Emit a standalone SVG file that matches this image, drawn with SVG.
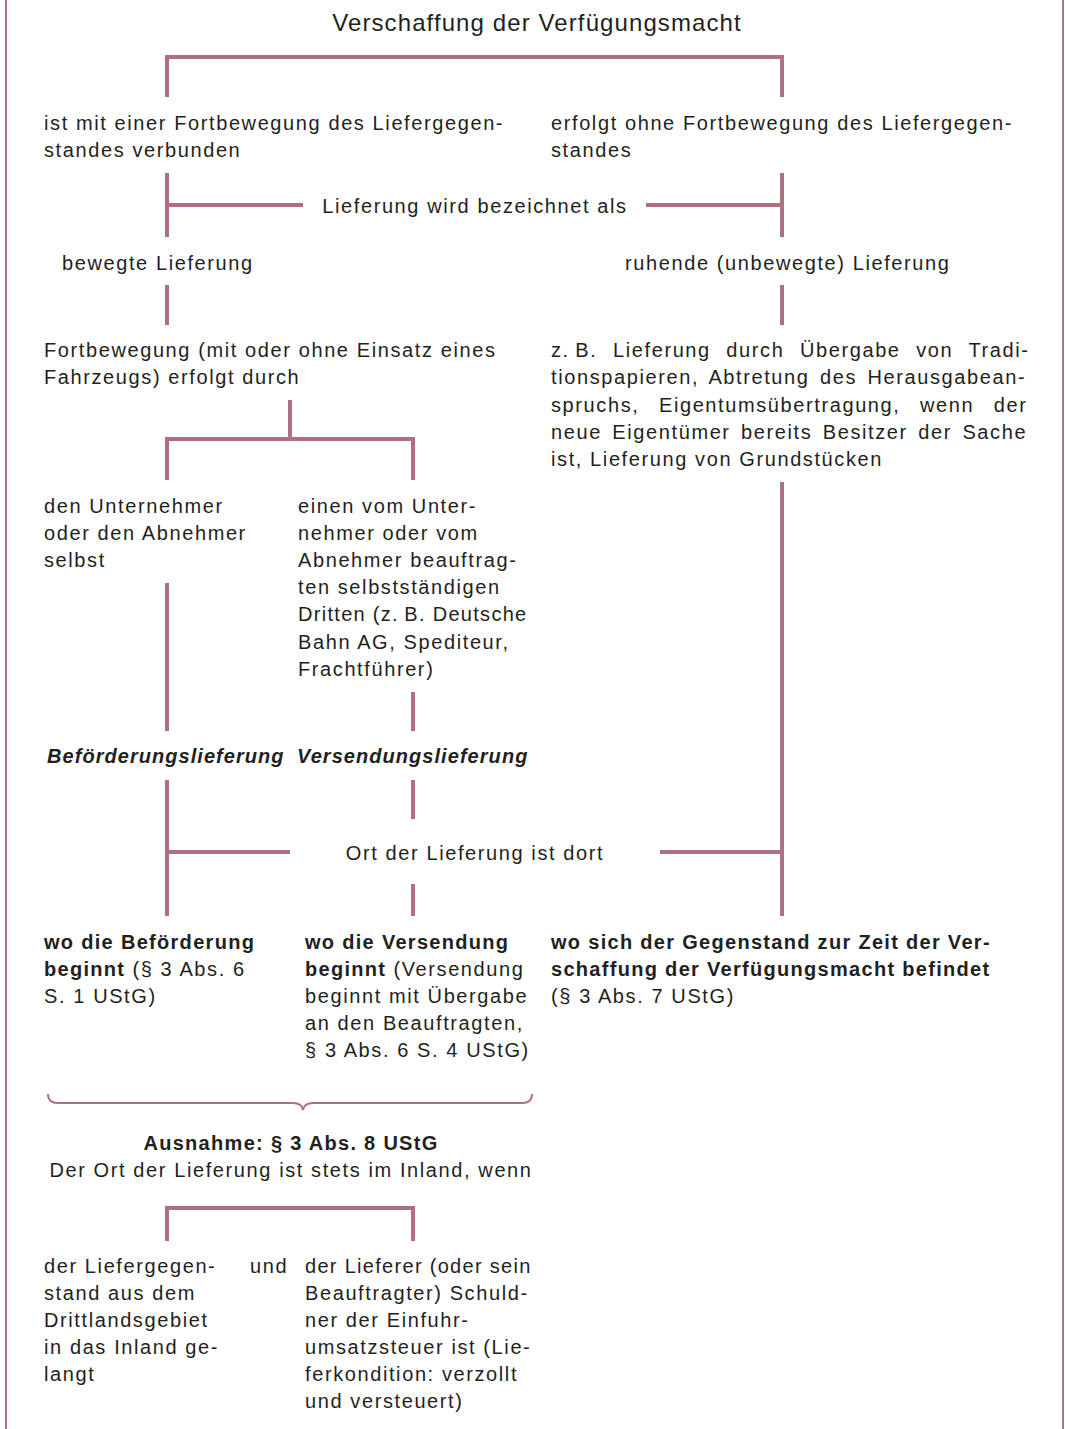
<svg xmlns="http://www.w3.org/2000/svg" width="1065" height="1429" viewBox="0 0 1065 1429">
<style>
text{font-family:"Liberation Sans",Arial,sans-serif;font-size:20px;fill:#231f20;letter-spacing:1.6px}
.b{font-weight:bold;letter-spacing:1.3px}
.bi{font-weight:bold;font-style:italic;letter-spacing:1.05px}
.t{font-size:24px;letter-spacing:1.1px}
.c{text-anchor:middle}
.ln{stroke:#ad7180;stroke-width:4;fill:none}
.fr{stroke:#ad7180;stroke-width:2;fill:none}
</style>
<rect width="1065" height="1429" fill="#fff"/>
<line class="fr" x1="6" y1="0" x2="6" y2="1429"/>
<line class="fr" x1="1063" y1="0" x2="1063" y2="1429"/>
<g id="connectors">
<path class="ln" d="M167 97V57H782V97"/>
<path class="ln" d="M167 173V237M167 205H303M646 205H782M782 173V237"/>
<path class="ln" d="M167 285V325M782 285V325"/>
<path class="ln" d="M290 400V439M167 480V439H413V480"/>
<path class="ln" d="M167 583V731M413 692V731M782 482V916"/>
<path class="ln" d="M167 780V916M413 780V819M167 852H290M660 852H782M413 884V916"/>
<path class="ln" d="M167 1241V1208H413V1241"/>
<path stroke="#ad7180" stroke-width="2" fill="none" d="M48 1094Q48 1103 58 1103H293Q302 1103 303 1110Q304 1103 313 1103H522Q532 1103 532 1094"/>
</g>
<g id="title"><text class="t c" x="537" y="31">Verschaffung der Verfügungsmacht</text></g>
<g id="mit"><text x="44" y="130">ist mit einer Fortbewegung des Liefergegen-</text><text x="44" y="157">standes verbunden</text></g>
<g id="ohne"><text x="551" y="130">erfolgt ohne Fortbewegung des Liefergegen-</text><text x="551" y="157">standes</text></g>
<g id="bez"><text class="c" x="475" y="213">Lieferung wird bezeichnet als</text></g>
<g id="bewegt"><text x="62" y="270">bewegte Lieferung</text></g>
<g id="ruhend"><text x="625" y="270">ruhende (unbewegte) Lieferung</text></g>
<g id="fort"><text x="44" y="357">Fortbewegung (mit oder ohne Einsatz eines</text><text x="44" y="384">Fahrzeugs) erfolgt durch</text></g>
<g id="zb">
<text x="551" y="357" style="word-spacing:8.4px">z.&#8201;B. Lieferung durch Übergabe von Tradi-</text>
<text x="551" y="384" style="word-spacing:3.3px">tionspapieren, Abtretung des Herausgabean-</text>
<text x="551" y="412" style="word-spacing:12.4px">spruchs, Eigentumsübertragung, wenn der</text>
<text x="551" y="439" style="word-spacing:3.3px">neue Eigentümer bereits Besitzer der Sache</text>
<text x="551" y="466">ist, Lieferung von Grundstücken</text>
</g>
<g id="selbst"><text x="44" y="513">den Unternehmer</text><text x="44" y="540">oder den Abnehmer</text><text x="44" y="567">selbst</text></g>
<g id="dritte"><text x="298" y="513">einen vom Unter-</text><text x="298" y="540">nehmer oder vom</text><text x="298" y="567">Abnehmer beauftrag-</text><text x="298" y="594">ten selbstständigen</text><text x="298" y="621" style="letter-spacing:1.3px">Dritten (z.&#8201;B. Deutsche</text><text x="298" y="649">Bahn AG, Spediteur,</text><text x="298" y="676">Frachtführer)</text></g>
<g id="befl"><text class="bi" x="47" y="763">Beförderungslieferung</text></g>
<g id="verl"><text class="bi" x="297" y="763">Versendungslieferung</text></g>
<g id="ort"><text class="c" x="475" y="860">Ort der Lieferung ist dort</text></g>
<g id="wobef"><text class="b" x="44" y="949">wo die Beförderung</text><text x="44" y="976"><tspan class="b">beginnt</tspan> (§ 3 Abs. 6</text><text x="44" y="1003">S. 1 UStG)</text></g>
<g id="wover"><text class="b" x="305" y="949">wo die Versendung</text><text x="305" y="976"><tspan class="b">beginnt</tspan> (Versendung</text><text x="305" y="1003">beginnt mit Übergabe</text><text x="305" y="1030">an den Beauftragten,</text><text x="305" y="1057">§ 3 Abs. 6 S. 4 UStG)</text></g>
<g id="wosich"><text class="b" x="551" y="949">wo sich der Gegenstand zur Zeit der Ver-</text><text class="b" x="551" y="976">schaffung der Verfügungsmacht befindet</text><text x="551" y="1003">(§ 3 Abs. 7 UStG)</text></g>
<g id="ausnahme"><text class="b c" x="291" y="1150">Ausnahme: § 3 Abs. 8 UStG</text><text class="c" x="291" y="1177">Der Ort der Lieferung ist stets im Inland, wenn</text></g>
<g id="drittland"><text x="44" y="1273">der Liefergegen-</text><text x="44" y="1300">stand aus dem</text><text x="44" y="1327">Drittlandsgebiet</text><text x="44" y="1354">in das Inland ge-</text><text x="44" y="1381">langt</text></g>
<g id="und"><text x="250" y="1273">und</text></g>
<g id="lieferer"><text x="305" y="1273" style="letter-spacing:1.3px">der Lieferer (oder sein</text><text x="305" y="1300">Beauftragter) Schuld-</text><text x="305" y="1327">ner der Einfuhr-</text><text x="305" y="1354">umsatzsteuer ist (Lie-</text><text x="305" y="1381">ferkondition: verzollt</text><text x="305" y="1408">und versteuert)</text></g>
</svg>
